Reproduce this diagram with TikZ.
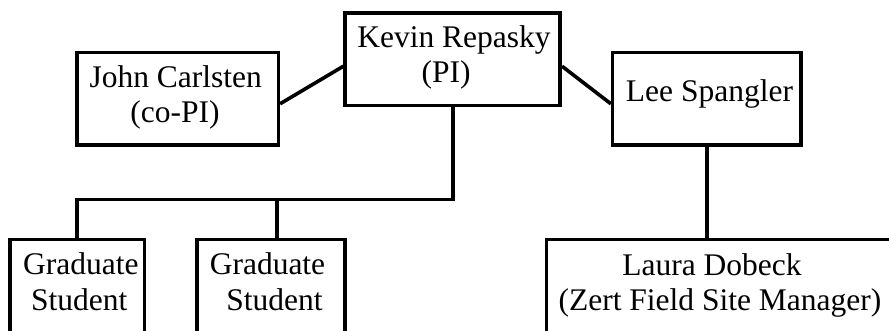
\documentclass[tikz,border=0pt]{standalone}
\usepackage{fontspec}
\setmainfont{Liberation Serif}
\begin{document}
\begin{tikzpicture}[x=1pt,y=-1pt,
  box/.style={draw,line width=3.6pt,inner sep=0pt,rectangle},
  txt/.style={anchor=base,inner sep=0pt,font=\fontsize{31.5}{36}\selectfont},
  link/.style={line width=3.6pt}]
\clip (0,0) rectangle (889,330);
% boxes
\node[box,minimum width=215pt,minimum height=92.3pt] (kevin) at (452.7,59.2) {};
\node[box,minimum width=201.6pt,minimum height=92.7pt] (john) at (177.5,98.8) {};
\node[box,minimum width=188.3pt,minimum height=92.7pt] (lee) at (706.8,98.8) {};
\node[box,minimum width=134.6pt,minimum height=120pt] (grad1) at (77,299.3) {};
\node[box,minimum width=147.7pt,minimum height=120pt] (grad2) at (270.85,299.3) {};
\node[box,minimum width=400pt,minimum height=120pt] (laura) at (746.3,299.3) {};
% texts
\node[txt] (kevin1) at (454,47) {Kevin Repasky};
\node[txt] (kevin2) at (446,82) {(PI)};
\node[txt] (john1) at (175.7,87.3) {John Carlsten};
\node[txt] (john2) at (175,122.7) {(co-PI)};
\node[txt] (lee1) at (709.5,101) {Lee Spangler};
\node[txt] (g1a) at (80.8,274) {Graduate};
\node[txt] (g1b) at (79.2,310) {Student};
\node[txt] (g2a) at (267.5,274) {Graduate};
\node[txt] (g2b) at (274.5,310) {Student};
\node[txt] (laura1) at (712,275) {Laura Dobeck};
\node[txt] (laura2) at (720,310) {(Zert Field Site Manager)};
% connectors
\coordinate (bar) at (452,199.3);
\coordinate (g2top) at ([xshift=6pt]grad2.north);
\draw[link] ([yshift=-5pt]john.east) -- ([yshift=-7pt]kevin.west);
\draw[link] ([yshift=-7pt]kevin.east) -- ([yshift=-5pt]lee.west);
\draw[link] (kevin.south) -- (kevin.south |- bar) -| (grad1.north);
\draw[link] (g2top |- bar) -- (g2top);
\draw[link] (lee.south) -- (lee.south |- laura.north);
\end{tikzpicture}
\end{document}
